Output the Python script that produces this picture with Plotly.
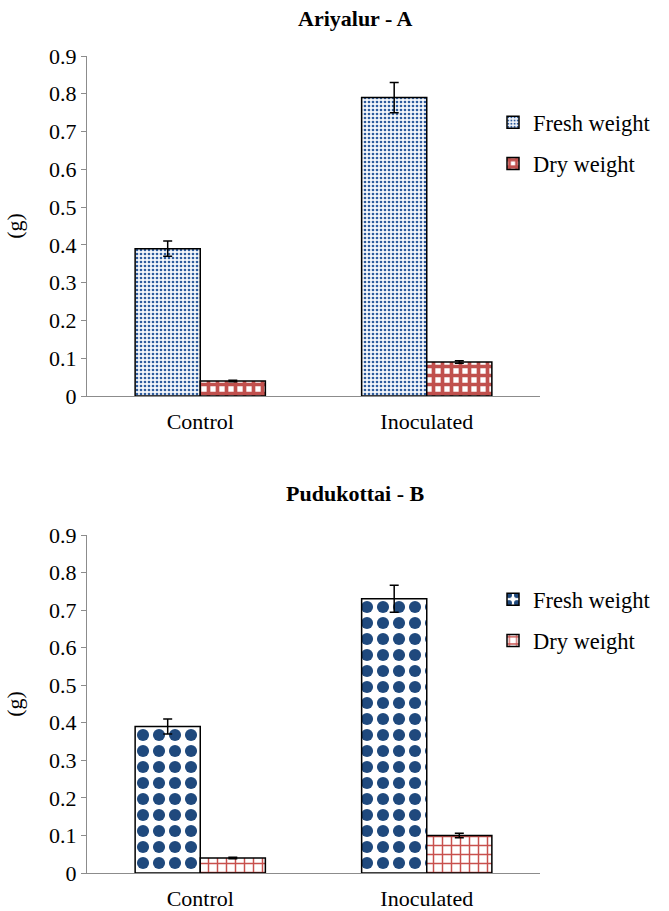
import plotly.graph_objects as go
from plotly.subplots import make_subplots

categories = ["Control", "Inoculated"]
series_names = ["Fresh weight", "Dry weight"]

a_fresh = [0.39, 0.79]
a_fresh_err = [0.02, 0.04]
a_dry = [0.04, 0.09]
a_dry_err = [0.002, 0.003]

b_fresh = [0.39, 0.73]
b_fresh_err = [0.02, 0.036]
b_dry = [0.04, 0.10]
b_dry_err = [0.002, 0.006]

titles = ["Ariyalur - A", "Pudukottai - B"]
y_ticks = [0, 0.1, 0.2, 0.3, 0.4, 0.5, 0.6, 0.7, 0.8, 0.9]
y_tick_text = ["0", "0.1", "0.2", "0.3", "0.4", "0.5", "0.6", "0.7", "0.8", "0.9"]

FONT = "Times New Roman, Liberation Serif, serif"
W, H = 669, 911

fig = make_subplots(rows=2, cols=1)

patterns = [
    dict(shape=".", fgcolor="#2E5C9E", bgcolor="#F4F7FB", size=4, solidity=0.35, fillmode="replace"),
    dict(shape="+", fgcolor="#C0504D", bgcolor="white", size=9, solidity=0.65, fillmode="replace"),
    dict(shape=".", fgcolor="#1F497D", bgcolor="white", size=16, solidity=0.45, fillmode="replace"),
    dict(shape="+", fgcolor="#C8504D", bgcolor="white", size=9, solidity=0.3, fillmode="replace"),
]

data = [
    (1, a_fresh, a_fresh_err, a_dry, a_dry_err, "legend"),
    (2, b_fresh, b_fresh_err, b_dry, b_dry_err, "legend2"),
]

for i, (row, fv, fe, dv, de, lg) in enumerate(data):
    for j, (name, vals, errs) in enumerate([(series_names[0], fv, fe), (series_names[1], dv, de)]):
        fig.add_trace(go.Bar(
            x=categories, y=vals, name=name,
            legend=lg, legendgroup=f"{lg}{j}",
            marker=dict(color="white", pattern=patterns[i * 2 + j],
                        line=dict(color="black", width=1.5)),
            error_y=dict(type="data", array=errs, visible=True,
                         color="black", thickness=1.5, width=4.5),
        ), row=row, col=1)

# pixel geometry
left, right = 87, 540
top_y = (56, 396)
bot_y = (535, 873)

def dom(a, b):
    return [1 - b / H, 1 - a / H]

xdom = [left / W, right / W]

axis_common = dict(
    showgrid=False, zeroline=False, showline=True, linecolor="#8C8C8C", linewidth=1.2,
    tickfont=dict(family=FONT, size=22, color="black"),
)

legend_common = dict(
    x=493 / W, xanchor="left", yanchor="top", xref="paper", yref="paper",
    font=dict(family=FONT, size=22.5, color="black"), bgcolor="rgba(0,0,0,0)",
    traceorder="grouped", tracegroupgap=9, itemwidth=30,
)

ytitle = dict(text="(g)", font=dict(family=FONT, size=22), standoff=20)

fig.update_layout(
    width=W, height=H, margin=dict(l=0, r=0, t=0, b=0, autoexpand=False),
    plot_bgcolor="white", paper_bgcolor="white",
    barmode="group", bargap=0.425, bargroupgap=0,
    font=dict(family=FONT, size=22, color="black"),
    xaxis=dict(domain=xdom, anchor="y", ticks="", ticklabelstandoff=5, **axis_common),
    xaxis2=dict(domain=xdom, anchor="y2", ticks="", ticklabelstandoff=5, **axis_common),
    yaxis=dict(domain=dom(*top_y), range=[0, 0.9], tickvals=y_ticks, ticktext=y_tick_text,
               ticks="outside", ticklen=5, tickcolor="#8C8C8C", title=ytitle, **axis_common),
    yaxis2=dict(domain=dom(*bot_y), range=[0, 0.9], tickvals=y_ticks, ticktext=y_tick_text,
                ticks="outside", ticklen=5, tickcolor="#8C8C8C", title=ytitle, **axis_common),
    legend=dict(y=1 - 101 / H, **legend_common),
    legend2=dict(y=1 - 578 / H, **legend_common),
    annotations=[
        dict(text=f"<b>{titles[0]}</b>", x=355 / W, xref="paper", y=1 - 18 / H, yref="paper",
             showarrow=False, font=dict(family=FONT, size=22), xanchor="center", yanchor="middle"),
        dict(text=f"<b>{titles[1]}</b>", x=355 / W, xref="paper", y=1 - 493 / H, yref="paper",
             showarrow=False, font=dict(family=FONT, size=22), xanchor="center", yanchor="middle"),
    ],
)

fig.write_html("out.html", config={"displayModeBar": False},
               post_script="document.body.style.margin='0';")
